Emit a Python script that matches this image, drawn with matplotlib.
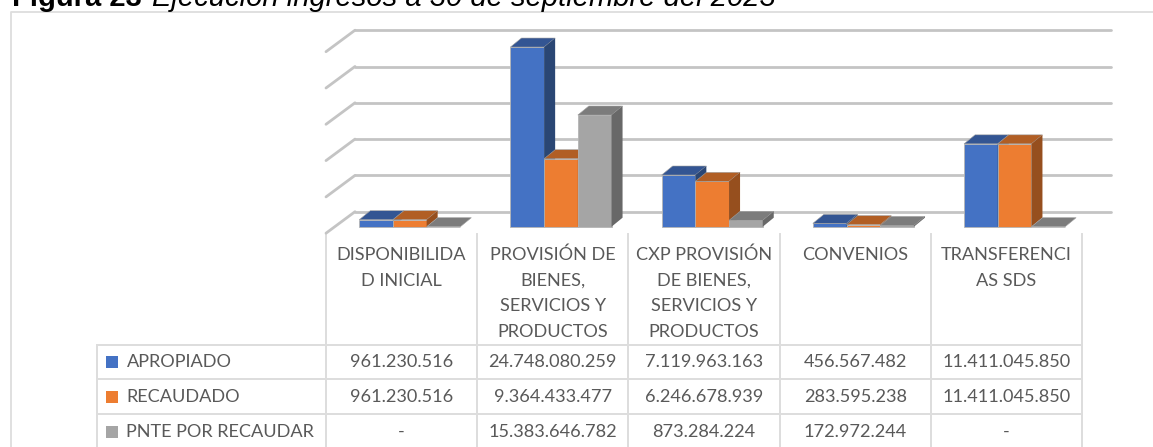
"""
Ejecucion de ingresos: 3D-look clustered bars with a data table underneath
"""
import matplotlib
matplotlib.use('Agg')
import matplotlib.pyplot as plt
from matplotlib.patches import Polygon, Rectangle

W, H = 1153, 447

categories = ['DISPONIBILIDA\nD INICIAL', 'PROVISIÓN DE\nBIENES,\nSERVICIOS Y\nPRODUCTOS',
              'CXP PROVISIÓN\nDE BIENES,\nSERVICIOS Y\nPRODUCTOS', 'CONVENIOS', 'TRANSFERENCI\nAS SDS']
series_names = ['APROPIADO', 'RECAUDADO', 'PNTE POR RECAUDAR']
apropiado = [961230516, 24748080259, 7119963163, 456567482, 11411045850]
recaudado = [961230516, 9364433477, 6246678939, 283595238, 11411045850]
pendiente = [0, 15383646782, 873284224, 172972244, 0]
label_apropiado = ['961.230.516', '24.748.080.259', '7.119.963.163', '456.567.482', '11.411.045.850']
label_recaudado = ['961.230.516', '9.364.433.477', '6.246.678.939', '283.595.238', '11.411.045.850']
label_pendiente = ['-', '15.383.646.782', '873.284.224', '172.972.244', '-']
grid_values = [0, 5e9, 10e9, 15e9, 20e9, 25e9]

colors = ['#4472C4', '#ED7D31', '#A5A5A5']
tops = ['#335593', '#B15E24', '#7C7C7C']
sides = ['#2A4674', '#964F1E', '#686868']
text_color = '#595959'
line_color = '#DDDDDD'
FS = 13.1

fig = plt.figure(figsize=(W / 100, H / 100), dpi=100)

# pixel overlay for frame and table
ov = fig.add_axes([0, 0, 1, 1])
ov.set_xlim(0, W)
ov.set_ylim(H, 0)
ov.axis('off')

# bar axes: one unit per category, y in pesos
x0, x1, y0, y1 = 326, 1082, 226.7, 45.2
ax = fig.add_axes([x0 / W, 1 - y0 / H, (x1 - x0) / W, (y0 - y1) / H])
ax.set_xlim(-0.5, 4.5)
ax.set_ylim(0, 25e9)
ax.axis('off')
ax.patch.set_alpha(0)

px_x = 5 / (x1 - x0)
px_y = 25e9 / (y0 - y1)


def dx(p):
    return p * px_x


def dy(p):
    return p * px_y


# gridlines: wall part runs up and back from the front edge
for v in grid_values:
    ax.plot([-0.5, -0.5 + dx(29)], [v - dy(6.5), v + dy(15)], color='#C4C4C4', lw=2.0,
            clip_on=False, zorder=1, solid_capstyle='round')
    ax.plot([-0.5 + dx(29), 4.5 + dx(29)], [v + dy(15), v + dy(15)], color='#C4C4C4', lw=2.0,
            clip_on=False, zorder=1, solid_capstyle='round')

bar_w = 33.7 * px_x
cluster_shift = 8.2 * px_x
depth_x = dx(11)
depth_y = dy(9)
for i, vals in enumerate([apropiado, recaudado, pendiente]):
    for c, v in enumerate(vals):
        left = c + cluster_shift + (i - 1.5) * bar_w
        z = 3 + i
        ax.bar(left, v, width=bar_w, align='edge', color=colors[i], edgecolor='#B5B5B5',
               linewidth=0.6, zorder=z, clip_on=False)
        ax.add_patch(Polygon([(left, v), (left + depth_x, v + depth_y),
                              (left + bar_w + depth_x, v + depth_y), (left + bar_w, v)],
                             facecolor=tops[i], edgecolor='#A0A0A0', linewidth=0.4,
                             zorder=z, clip_on=False))
        ax.add_patch(Polygon([(left + bar_w, 0), (left + bar_w + depth_x, depth_y),
                              (left + bar_w + depth_x, v + depth_y), (left + bar_w, v)],
                             facecolor=sides[i], edgecolor='none', zorder=z, clip_on=False))

# chart frame
ov.plot([10.7, 10.7, W], [H, 11.7, 11.7], color=line_color, lw=1.3)

# table grid
cols = [x0 + (x1 - x0) / 5 * k for k in range(6)]
rows = [344.5, 379.3, 414, 449]
for r in rows:
    ov.plot([97, x1], [r, r], color=line_color, lw=1.4)
ov.plot([97, 97], [rows[0], H], color=line_color, lw=1.4)
for c in cols:
    ov.plot([c, c], [234, H], color=line_color, lw=1.4)

# category labels
for k, name in enumerate(categories):
    for j, part in enumerate(name.split('\n')):
        ov.text((cols[k] + cols[k + 1]) / 2, 255 + j * 25.7, part, ha='center', va='center',
                family='Lato', fontsize=FS, color=text_color)

# legend keys and values
value_rows = [label_apropiado, label_recaudado, label_pendiente]
for i, name in enumerate(series_names):
    yc = (rows[i] + rows[i + 1]) / 2 + 0.5
    ov.add_patch(Rectangle((105.5, yc - 6), 12, 12, facecolor=colors[i], edgecolor='none'))
    ov.text(126.5, yc, name, ha='left', va='center', family='Lato', fontsize=FS, color=text_color)
    for k, lab in enumerate(value_rows[i]):
        ov.text((cols[k] + cols[k + 1]) / 2, yc, lab, ha='center', va='center',
                family='Lato', fontsize=FS, color=text_color)

# caption, cut off by the top of the picture
ov.text(12.5, 5.5, 'Figura 23', ha='left', va='baseline', family='Liberation Sans',
        fontweight='bold', fontsize=21, color='black', clip_on=False)
ov.text(152, 5.5, 'Ejecución ingresos a 30 de septiembre del 2023', ha='left', va='baseline',
        family='Liberation Sans', style='italic', fontsize=21, color='black', clip_on=False)

fig.savefig('out.png', dpi=100)
plt.close(fig)
